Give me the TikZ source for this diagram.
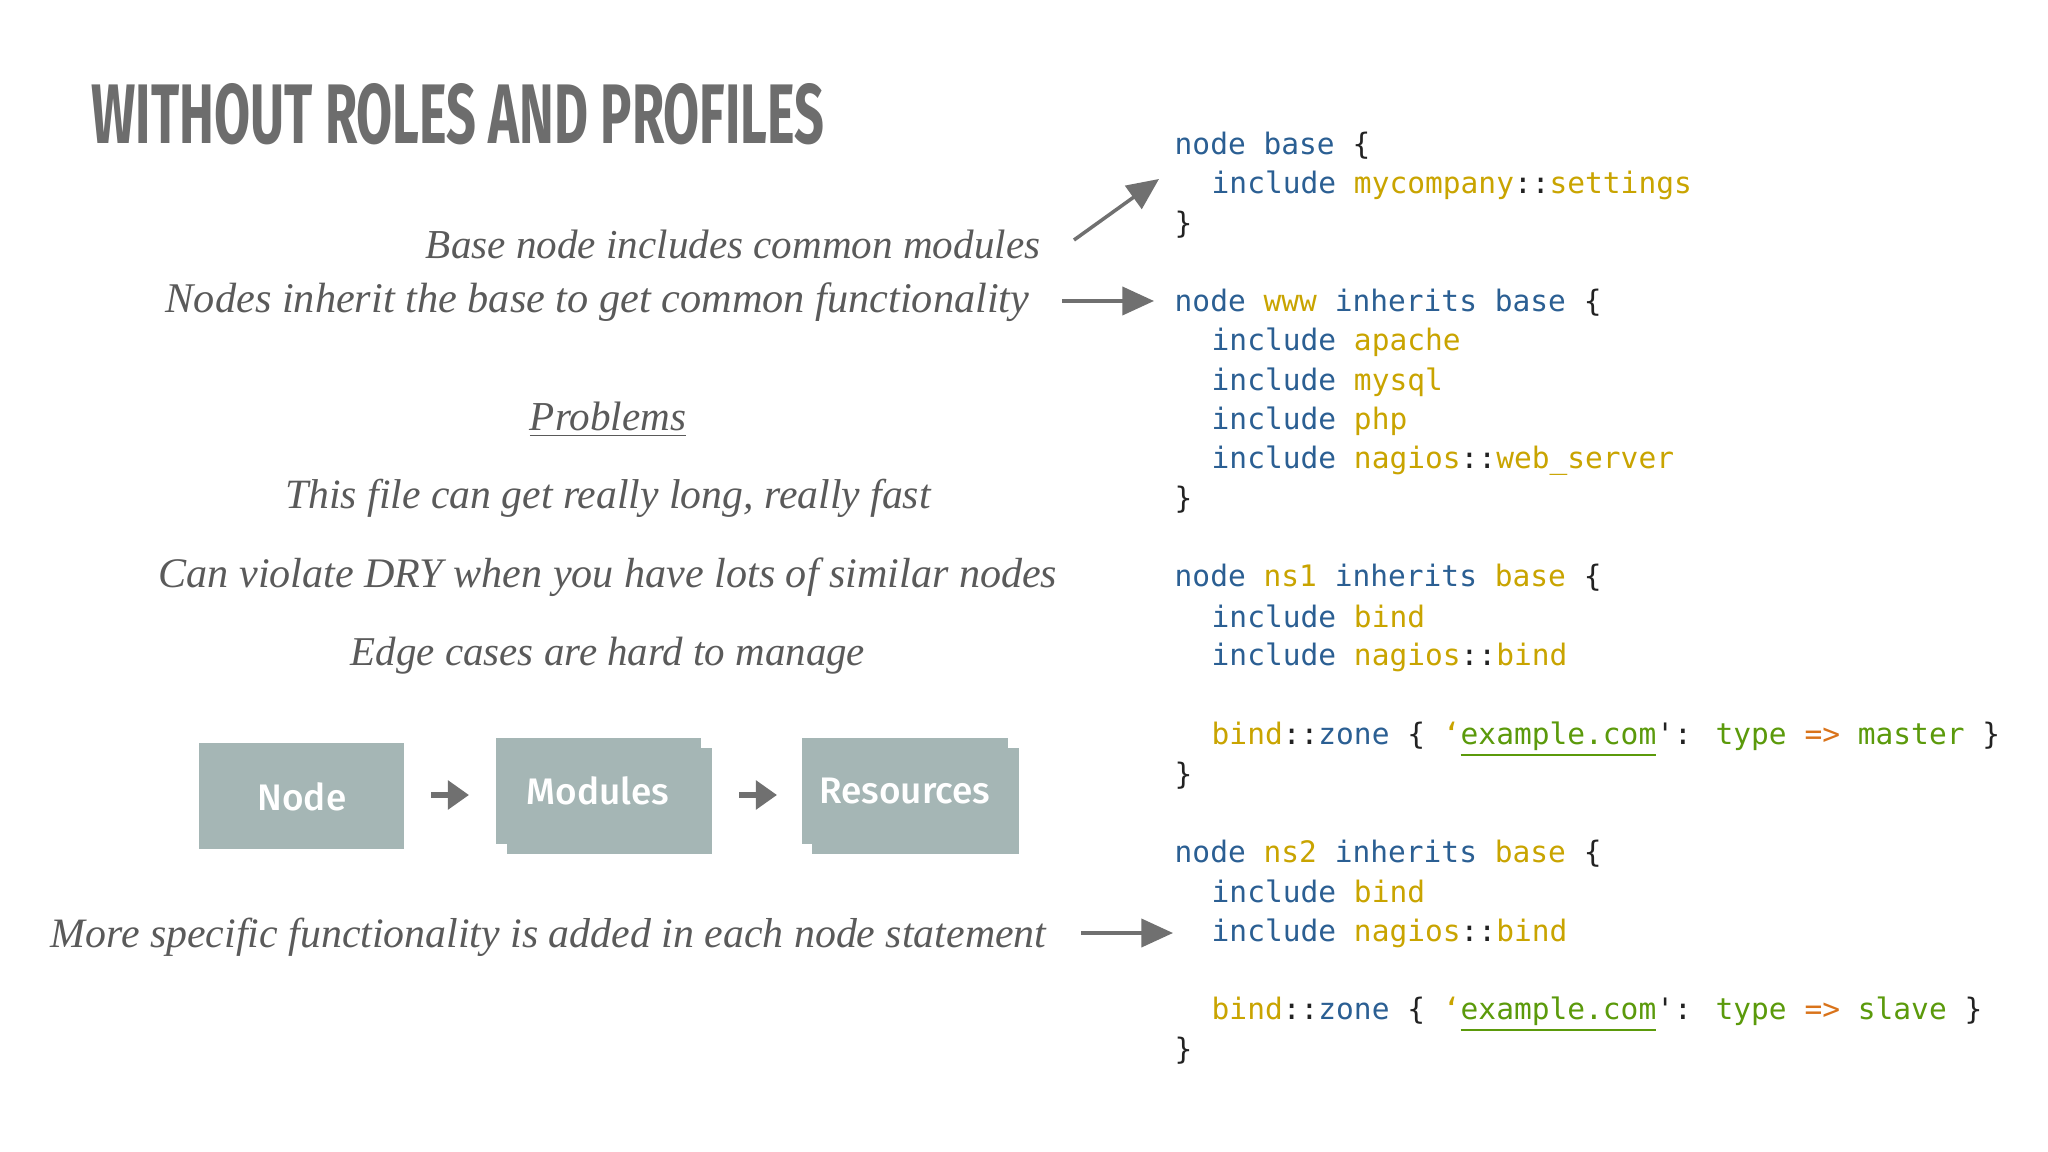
\documentclass[tikz,border=0pt]{standalone}
\usepackage{fontspec}
\usetikzlibrary{arrows.meta}
\newfontfamily\titlefont{Fira Sans Bold}
\newfontfamily\boxfont{Fira Sans Medium}
\newfontfamily\codefont{DejaVu Sans Mono}
\newfontfamily\itfont{Liberation Serif Italic}
\definecolor{kb}{HTML}{2B5F93}
\definecolor{ky}{HTML}{C9A400}
\definecolor{kg}{HTML}{5B9A0B}
\definecolor{ko}{HTML}{D9731A}
\definecolor{kk}{HTML}{222222}
\definecolor{ttl}{HTML}{6D6D6D}
\definecolor{itx}{HTML}{5A5A5A}
\definecolor{boxc}{HTML}{A5B6B5}
\definecolor{arr}{HTML}{707070}
\newcommand{\B}[1]{\textcolor{kb}{#1}}
\newcommand{\Y}[1]{\textcolor{ky}{#1}}
\newcommand{\G}[1]{\textcolor{kg}{#1}}
\newcommand{\K}[1]{\textcolor{kk}{#1}}
\newcommand{\fitw}[2]{\resizebox{#1}{!}{\itfont #2}}
\tikzset{
  itxt/.style={inner sep=0pt, text=itx, font=\fontsize{14}{16}\selectfont},
  code/.style={inner sep=0pt, anchor=base west, font=\codefont\fontsize{8.4}{10}\selectfont},
  blk/.style={fill=boxc, draw=none},
  bigarrow/.style={draw=arr, line width=1pt, -{Triangle[length=9pt,width=8pt]}},
  smallarrow/.style={draw=arr, line width=1.6pt, -{Triangle[length=6pt,width=8pt]}},
  boxlabel/.style={text=white, font=\boxfont\fontsize{10.5}{12}\selectfont}
}
\begin{document}
\begin{tikzpicture}[x=0.01cm,y=-0.01cm]
\path[fill=white] (0,0) rectangle (2048,1152);
\useasboundingbox (0,0) rectangle (2048,1152);
% title
\node[anchor=base west, inner sep=0pt, text=ttl] (title) at (91,144)
  {\resizebox{7.32cm}{0.60cm}{\titlefont WITHOUT ROLES AND PROFILES}};
% italic texts
\node[itxt, anchor=base east] (t1) at (1041,259) {\fitw{6.14cm}{Base node includes common modules}};
\node[itxt, anchor=base east] (t2) at (1030,313) {\fitw{8.63cm}{Nodes inherit the base to get common functionality}};
\node[itxt, anchor=base] (t3) at (608,431) {\fitw{1.56cm}{\underline{Problems}}};
\node[itxt, anchor=base] (t4) at (608,509) {\fitw{6.45cm}{This file can get really long, really fast}};
\node[itxt, anchor=base] (t5) at (608,588) {\fitw{8.98cm}{Can violate DRY when you have lots of similar nodes}};
\node[itxt, anchor=base] (t6) at (608,666) {\fitw{5.14cm}{Edge cases are hard to manage}};
\node[itxt, anchor=base west] (t7) at (50,947) {\fitw{9.95cm}{More specific functionality is added in each node statement}};
% code
\node[code] (c0) at (1174,155) {\B{node base} \K{\{}};
\node[code] (c1) at (1211,194) {\B{include} \Y{mycompany}\K{::}\Y{settings}};
\node[code] (c2) at (1174,234) {\K{\}}};
\node[code] (c4) at (1174,312) {\B{node} \Y{www} \B{inherits base} \K{\{}};
\node[code] (c5) at (1211,351) {\B{include} \Y{apache}};
\node[code] (c6) at (1211,391) {\B{include} \Y{mysql}};
\node[code] (c7) at (1211,430) {\B{include} \Y{php}};
\node[code] (c8) at (1211,469) {\B{include} \Y{nagios}\K{::}\Y{web\_server}};
\node[code] (c9) at (1174,509) {\K{\}}};
\node[code] (c11) at (1174,587) {\B{node} \Y{ns1} \B{inherits} \Y{base} \K{\{}};
\node[code] (c12) at (1211,627) {\B{include} \Y{bind}};
\node[code] (c13) at (1211,666) {\B{include} \Y{nagios}\K{::}\Y{bind}};
\node[code] (c15) at (1211,744) {\Y{bind}\K{::}\B{zone} \K{\{} \Y{‘}\G{\underline{example.com}}\K{':} \G{type} \textcolor{ko}{=>} \G{master} \K{\}}};
\node[code] (c16) at (1174,784) {\K{\}}};
\node[code] (c18) at (1174,862) {\B{node} \Y{ns2} \B{inherits} \Y{base} \K{\{}};
\node[code] (c19) at (1211,902) {\B{include} \Y{bind}};
\node[code] (c20) at (1211,941) {\B{include} \Y{nagios}\K{::}\Y{bind}};
\node[code] (c22) at (1211,1019) {\Y{bind}\K{::}\B{zone} \K{\{} \Y{‘}\G{\underline{example.com}}\K{':} \G{type} \textcolor{ko}{=>} \G{slave} \K{\}}};
\node[code] (c23) at (1174,1059) {\K{\}}};
% arrows
\coordinate (a1s) at (1074,240); \coordinate (a1e) at (1159,179);
\coordinate (a2s) at (1062,301); \coordinate (a2e) at (1154,301);
\coordinate (a3s) at (1081,933); \coordinate (a3e) at (1173,933);
\draw[bigarrow] (a1s) -- (a1e);
\draw[bigarrow] (a2s) -- (a2e);
\draw[bigarrow] (a3s) -- (a3e);
% boxes
\path[blk] (199,743) rectangle (404,849);
\node[boxlabel] (bnode) at (302,797) {Node};
\path[blk] (507,748) rectangle (712,854);
\path[blk] (496,738) rectangle (701,844);
\node[boxlabel] (bmod) at (598,791) {Modules};
\path[blk] (812,748) rectangle (1019,854);
\path[blk] (802,738) rectangle (1008,844);
\node[boxlabel] (bres) at (905,791) {Resources};
\coordinate (s1s) at (431,795); \coordinate (s1e) at (469,795);
\coordinate (s2s) at (739,795); \coordinate (s2e) at (777,795);
\draw[smallarrow] (s1s) -- (s1e);
\draw[smallarrow] (s2s) -- (s2e);
\end{tikzpicture}
\end{document}
